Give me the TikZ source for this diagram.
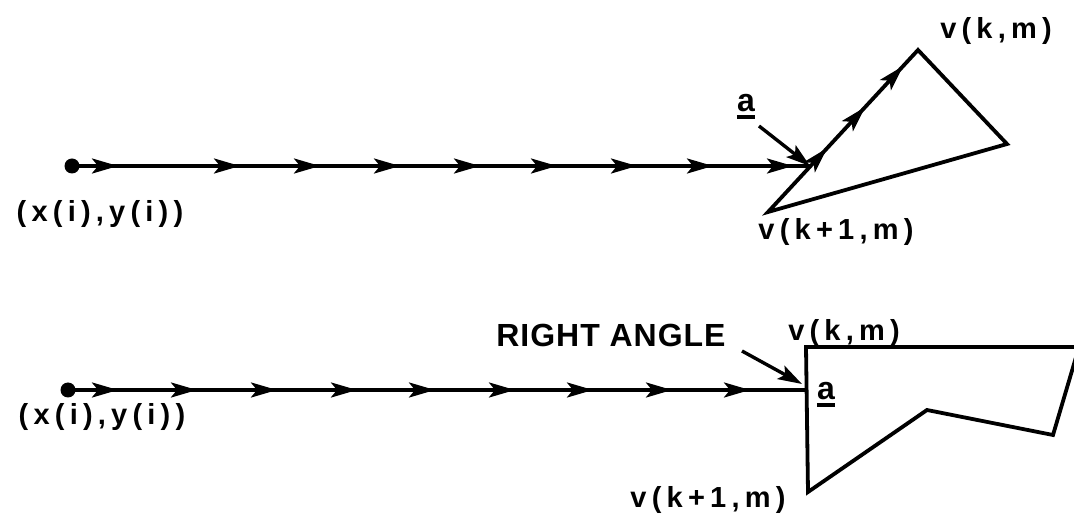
\documentclass[tikz,border=0pt]{standalone}
\usepackage{fontspec}
\setmainfont{Liberation Sans}
\newfontfamily\lbl{Liberation Sans Bold}[LetterSpace=18]
\newfontfamily\capsf{Liberation Sans Bold}[LetterSpace=3]
\newfontfamily\alet{Liberation Sans Bold}
\usetikzlibrary{arrows.meta,decorations.markings}
\tikzset{
  x=1pt, y=-1pt,
  wire/.style={line width=3.4pt},
  shape line/.style={line width=3.8pt, line join=miter},
  tipm/.tip={Stealth[length=26pt,width=15pt,inset=6pt]},
  pointer/.style={line width=3.4pt, -{Stealth[length=24pt,width=15pt,inset=5pt]}},
  lab/.style={inner sep=0pt, font=\fontsize{29}{30}\selectfont\lbl},
  caplab/.style={inner sep=0pt, font=\fontsize{32}{34}\selectfont\capsf},
  alab/.style={inner sep=0pt, anchor=base, font=\fontsize{32}{34}\selectfont\alet},
  dotstyle/.style={circle, fill=black, inner sep=0pt, minimum size=15pt}
}
\begin{document}
\begin{tikzpicture}
\useasboundingbox (0,0) rectangle (1074,518);
\clip (0,0) rectangle (1074,518);

% ---------- top figure ----------
\node[dotstyle] (d1) at (72,166) {};
\coordinate (j1) at (810,166);
\coordinate (t1) at (768,212);
\coordinate (t2) at (918,50);
\coordinate (t3) at (1007,144);
\draw[wire, postaction={decorate, decoration={markings,
    mark=at position 46pt with {\arrow{tipm}},
    mark=at position 168pt with {\arrow{tipm}},
    mark=at position 248pt with {\arrow{tipm}},
    mark=at position 328pt with {\arrow{tipm}},
    mark=at position 408pt with {\arrow{tipm}},
    mark=at position 485pt with {\arrow{tipm}},
    mark=at position 565pt with {\arrow{tipm}},
    mark=at position 641pt with {\arrow{tipm}},
    mark=at position 721pt with {\arrow{tipm}}}}]
  (d1.center) -- (j1);
\draw[shape line] (t1) -- (t2) -- (t3) -- cycle;
\path[line width=3.4pt, postaction={decorate, decoration={markings,
    mark=at position 87pt with {\arrow{tipm}},
    mark=at position 143pt with {\arrow{tipm}},
    mark=at position 199pt with {\arrow{tipm}}}}]
  (t1) -- (t2);
\node[lab] (p1) at (100,214) {(x(i),y(i))};
\node[lab] (vkm1) at (996,31) {v(k,m)};
\node[lab] (vk1m1) at (836,232) {v(k+1,m)};
\node[alab] (a1) at (746,112) {a};
\draw[line width=3.4pt] ([yshift=-5pt]a1.base west) -- ([yshift=-5pt]a1.base east);
\coordinate (a1s) at (759,126);
\draw[pointer] (a1s) -- (j1);

% ---------- bottom figure ----------
\node[dotstyle] (d2) at (68,390) {};
\coordinate (j2) at (806,390);
\coordinate (q1) at (806,347);
\coordinate (q2) at (1079,347);
\coordinate (q3) at (1053,435);
\coordinate (q4) at (927,410);
\coordinate (q5) at (808,492);
\draw[wire, postaction={decorate, decoration={markings,
    mark=at position 50pt with {\arrow{tipm}},
    mark=at position 129pt with {\arrow{tipm}},
    mark=at position 209pt with {\arrow{tipm}},
    mark=at position 289pt with {\arrow{tipm}},
    mark=at position 367pt with {\arrow{tipm}},
    mark=at position 447pt with {\arrow{tipm}},
    mark=at position 525pt with {\arrow{tipm}},
    mark=at position 604pt with {\arrow{tipm}},
    mark=at position 682pt with {\arrow{tipm}}}}]
  (d2.center) -- (j2);
\draw[shape line] (q1) -- (q2) -- (q3) -- (q4) -- (q5) -- cycle;
\node[lab] (p2) at (102,417) {(x(i),y(i))};
\node[lab] (vkm2) at (844,333) {v(k,m)};
\node[lab] (vk1m2) at (708,500) {v(k+1,m)};
\node[caplab] (ra) at (611,335) {RIGHT ANGLE};
\node[alab] (a2) at (826,400) {a};
\draw[line width=3.4pt] ([yshift=-5pt]a2.base west) -- ([yshift=-5pt]a2.base east);
\coordinate (ras) at (742,351);
\draw[pointer] (ras) -- (802,384);
\end{tikzpicture}
\end{document}
